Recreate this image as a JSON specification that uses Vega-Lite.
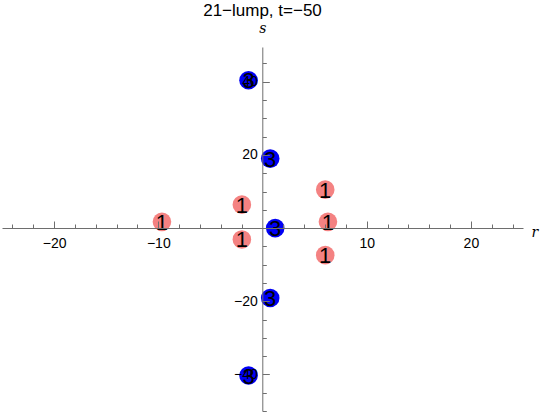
{
  "$schema": "https://vega.github.io/schema/vega-lite/v6.json",
  "autosize": "none",
  "width": 521,
  "height": 364,
  "padding": {"left": 2, "top": 47, "right": 17, "bottom": 1},
  "title": {"text": "21−lump, t=−50", "font": "Liberation Sans", "fontSize": 17, "fontWeight": "normal", "color": "black", "anchor": "middle", "frame": "group", "baseline": "alphabetic", "offset": -12},
  "config": {"view": {"stroke": null}},
  "data": {"values": [
    {"r": -1.34, "s": 40.4, "n": "3"},
    {"r": 0.74, "s": 19.0, "n": "3"},
    {"r": 1.22, "s": 0.0, "n": "3"},
    {"r": 0.74, "s": -19.1, "n": "3"},
    {"r": -1.34, "s": -40.3, "n": "3"},
    {"r": -9.65, "s": 1.7, "n": "1"},
    {"r": -1.98, "s": 6.4, "n": "1"},
    {"r": -1.98, "s": -3.1, "n": "1"},
    {"r": 6.02, "s": 10.5, "n": "1"},
    {"r": 6.28, "s": 1.7, "n": "1"},
    {"r": 6.02, "s": -7.4, "n": "1"}
  ]},
  "encoding": {
    "x": {"field": "r", "type": "quantitative", "scale": {"domain": [-25, 25], "nice": false, "zero": false},
      "axis": {"orient": "bottom", "offset": -183, "zindex": 1, "grid": false,
        "values": [-24,-22,-20,-18,-16,-14,-12,-10,-8,-6,-4,-2,2,4,6,8,10,12,14,16,18,20,22,24],
        "labelExpr": "datum.value % 10 === 0 ? datum.label : ''",
        "tickSize": {"condition": {"test": "datum.value % 10 === 0", "value": -7}, "value": -4},
        "labelPadding": 15, "labelFont": "Liberation Sans", "labelFontSize": 14, "labelColor": "black",
        "domainColor": "#6e6e6e", "tickColor": "#6e6e6e", "domainWidth": 1, "tickWidth": 1,
        "title": "r", "titleFont": "DejaVu Serif", "titleFontStyle": "italic", "titleFontWeight": "normal", "titleFontSize": 14,
        "titleX": 529, "titleY": 4, "titleAlign": "left", "titleBaseline": "middle", "titleColor": "black", "labelFlush": false, "labelOverlap": false}},
    "y": {"field": "s", "type": "quantitative", "scale": {"domain": [-50, 49.5], "nice": false, "zero": false},
      "axis": {"orient": "left", "offset": -260.3, "zindex": 1, "grid": false,
        "values": [-50,-45,-40,-35,-30,-25,-20,-15,-10,-5,5,10,15,20,25,30,35,40,45],
        "labelExpr": "datum.value % 20 === 0 ? datum.label : ''",
        "tickSize": {"condition": {"test": "datum.value % 20 === 0", "value": -7}, "value": -4},
        "labelPadding": 12, "labelFont": "Liberation Sans", "labelFontSize": 14, "labelColor": "black",
        "domainColor": "#6e6e6e", "tickColor": "#6e6e6e", "domainWidth": 1, "tickWidth": 1,
        "title": "s", "titleFont": "DejaVu Serif", "titleFontStyle": "italic", "titleFontWeight": "normal", "titleFontSize": 14,
        "titleAngle": 0, "titleX": 0, "titleY": -15, "titleAlign": "center", "titleBaseline": "alphabetic", "titleColor": "black", "labelFlush": false, "labelOverlap": false}}
  },
  "layer": [
    {"mark": {"type": "circle", "size": 346, "opacity": 1},
     "encoding": {"color": {"field": "n", "type": "nominal", "scale": {"domain": ["1", "3"], "range": ["#f48282", "#0000f5"]}, "legend": null}}},
    {"mark": {"type": "text", "font": "Liberation Sans", "fontSize": 22, "color": "black", "baseline": "middle", "align": "center", "dy": 1},
     "encoding": {"text": {"field": "n"}}}
  ]
}
